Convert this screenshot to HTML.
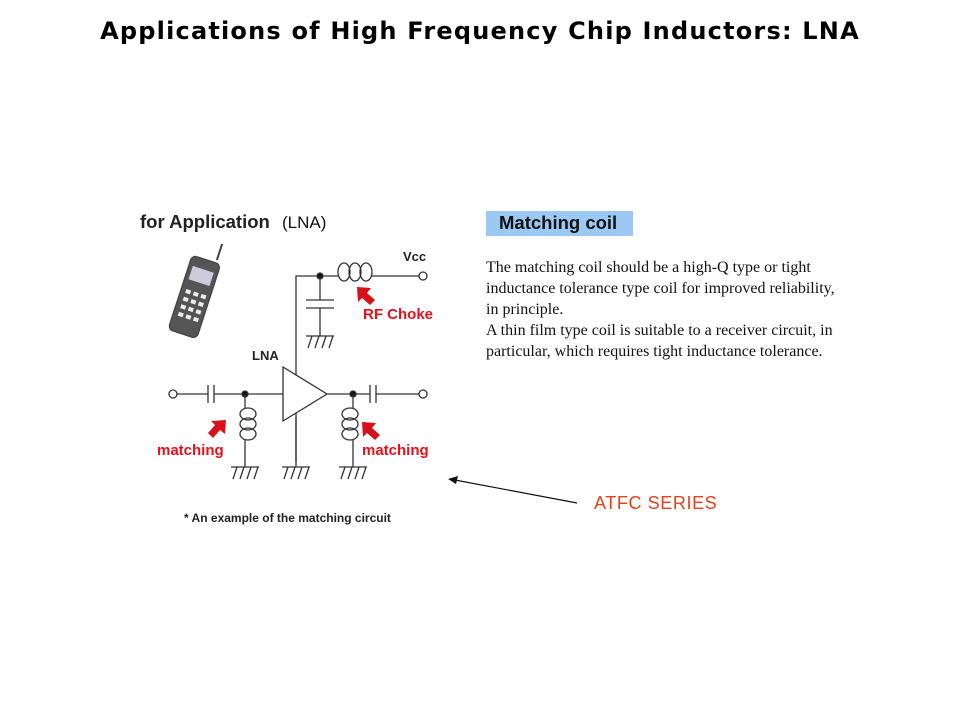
<!DOCTYPE html>
<html><head><meta charset="utf-8"><style>
body{margin:0;width:960px;height:720px;background:#fff;position:relative;overflow:hidden;font-family:"Liberation Sans",sans-serif}
.t{position:absolute;white-space:nowrap}
</style></head><body>
<div class="t" style="left:0;width:960px;text-align:center;top:17px;font-family:'DejaVu Sans',sans-serif;font-size:24px;font-weight:bold;color:#000;letter-spacing:1.2px">Applications of High Frequency Chip Inductors: LNA</div>
<div class="t" style="left:140px;top:211px;font-size:18.5px;font-weight:bold;color:#222">for Application</div>
<div class="t" style="left:282px;top:213px;font-size:17px;color:#111">(LNA)</div>
<div class="t" style="left:486px;top:211px;width:147px;height:25px;background:#9cc8f4"></div>
<div class="t" style="left:499px;top:212px;font-size:18.5px;font-weight:bold;color:#111">Matching coil</div>
<div class="t" style="left:486px;top:257px;font-family:'Liberation Serif',serif;font-size:16px;line-height:21px;color:#111">The matching coil should be a high-Q type or tight<br>inductance tolerance type coil for improved reliability,<br>in principle.<br>A thin film type coil is suitable to a receiver circuit, in<br>particular, which requires tight inductance tolerance.</div>
<div class="t" style="left:403px;top:249px;font-size:13px;font-weight:bold;color:#222">Vcc</div>
<div class="t" style="left:363px;top:306px;font-size:15px;font-weight:bold;color:#e8101a">RF Choke</div>
<div class="t" style="left:252px;top:348px;font-size:13px;font-weight:bold;color:#222">LNA</div>
<div class="t" style="left:157px;top:442px;font-size:15px;font-weight:bold;color:#e8101a">matching</div>
<div class="t" style="left:362px;top:442px;font-size:15px;font-weight:bold;color:#e8101a">matching</div>
<div class="t" style="left:184px;top:511px;font-size:12px;font-weight:bold;color:#222">* An example of the matching circuit</div>
<div class="t" style="left:594px;top:493px;font-size:18px;letter-spacing:0.6px;color:#e8401a">ATFC SERIES</div>
<svg width="960" height="720" style="position:absolute;left:0;top:0" fill="none" stroke="#333" stroke-width="1.3">
<g transform="rotate(18 195 295)">
<line x1="205" y1="255" x2="205" y2="238" stroke="#444" stroke-width="2"/>
<rect x="180" y="258" width="30" height="78" rx="5" fill="#555" stroke="#444"/>
<rect x="184" y="268" width="22" height="14" fill="#ccd" stroke="none"/>
<g fill="#eee" stroke="none">
<rect x="185" y="292" width="5" height="4"/><rect x="193" y="292" width="5" height="4"/><rect x="201" y="292" width="5" height="4"/>
<rect x="185" y="300" width="5" height="4"/><rect x="193" y="300" width="5" height="4"/><rect x="201" y="300" width="5" height="4"/>
<rect x="185" y="308" width="5" height="4"/><rect x="193" y="308" width="5" height="4"/><rect x="201" y="308" width="5" height="4"/>
<rect x="185" y="316" width="5" height="4"/><rect x="193" y="316" width="5" height="4"/><rect x="201" y="316" width="5" height="4"/>
</g></g>
<polyline points="296,462 296,276 338,276"/>
<line x1="372" y1="276" x2="419" y2="276"/>
<circle cx="423" cy="276" r="4" fill="#fff"/>
<circle cx="320" cy="276" r="3" fill="#111"/>
<ellipse cx="344" cy="272" rx="6" ry="9"/><ellipse cx="355" cy="272" rx="6" ry="9"/><ellipse cx="366" cy="272" rx="6" ry="9"/>
<line x1="320" y1="276" x2="320" y2="300"/>
<line x1="306" y1="300" x2="334" y2="300"/><line x1="306" y1="308" x2="334" y2="308"/>
<line x1="320" y1="308" x2="320" y2="336"/>
<polygon points="283,367 283,421 327,394" fill="#fff"/>
<line x1="296" y1="417" x2="296" y2="467"/>
<circle cx="173" cy="394" r="4" fill="#fff"/>
<line x1="177" y1="394" x2="208" y2="394"/><line x1="208" y1="385" x2="208" y2="403"/><line x1="214" y1="385" x2="214" y2="403"/>
<line x1="214" y1="394" x2="283" y2="394"/>
<circle cx="245" cy="394" r="3" fill="#111"/>
<line x1="245" y1="394" x2="245" y2="408"/>
<ellipse cx="248" cy="414" rx="8" ry="6"/><ellipse cx="248" cy="424" rx="8" ry="6"/><ellipse cx="248" cy="434" rx="8" ry="6"/>
<line x1="245" y1="440" x2="245" y2="467"/>
<line x1="327" y1="394" x2="370" y2="394"/><line x1="370" y1="385" x2="370" y2="403"/><line x1="376" y1="385" x2="376" y2="403"/>
<line x1="376" y1="394" x2="419" y2="394"/><circle cx="423" cy="394" r="4" fill="#fff"/>
<circle cx="353" cy="394" r="3" fill="#111"/>
<line x1="353" y1="394" x2="353" y2="408"/>
<ellipse cx="350" cy="414" rx="8" ry="6"/><ellipse cx="350" cy="424" rx="8" ry="6"/><ellipse cx="350" cy="434" rx="8" ry="6"/>
<line x1="353" y1="440" x2="353" y2="467"/>
<path d="M306,336h28 M308,348l4,-12 M315,348l4,-12 M322,348l4,-12 M329,348l4,-12"/>
<path d="M282,467h28 M284,479l4,-12 M291,479l4,-12 M298,479l4,-12 M305,479l4,-12"/>
<path d="M231,467h28 M233,479l4,-12 M240,479l4,-12 M247,479l4,-12 M254,479l4,-12"/>
<path d="M339,467h28 M341,479l4,-12 M348,479l4,-12 M355,479l4,-12 M362,479l4,-12"/>
<g fill="#d8101a" stroke="none">
<polygon points="357,287 371,288 367,293 375,300 370,305 362,298 358,302"/>
<polygon points="226,420 225,434 220,430 213,438 208,433 215,425 211,421"/>
<polygon points="362,422 376,423 372,428 380,435 375,440 367,433 363,437"/>
</g>
<line x1="577" y1="503" x2="455" y2="480" stroke="#111" stroke-width="1.2"/>
<polygon points="448,479 458,476 456,484" fill="#111" stroke="none"/>
</svg>
</body></html>
